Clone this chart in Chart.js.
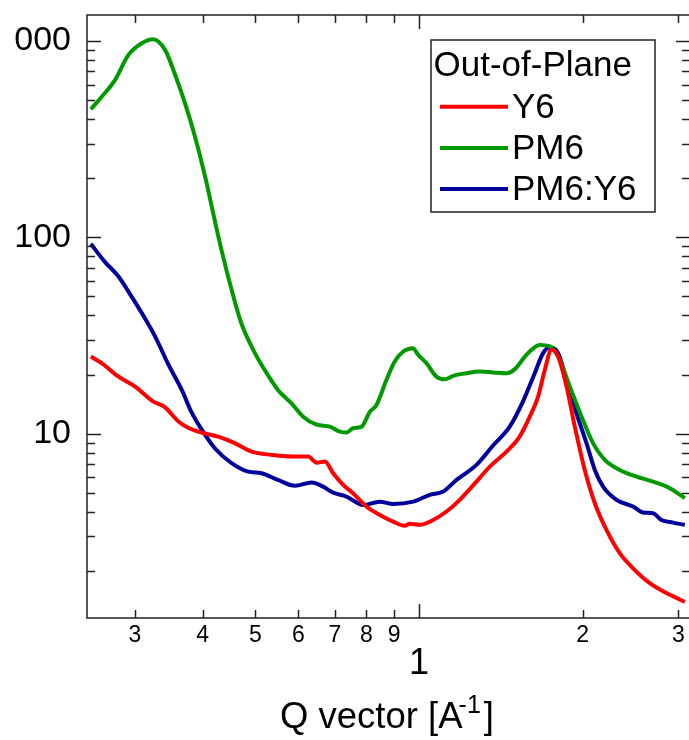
<!DOCTYPE html>
<html>
<head>
<meta charset="utf-8">
<script src="https://cdn.jsdelivr.net/npm/chart.js@4.4.1/dist/chart.umd.min.js"></script>
<style>
  html, body { margin: 0; padding: 0; background: #fff; }
  #wrap { position: relative; width: 689px; height: 740px; overflow: hidden; }
  #chart { position: absolute; left: -30px; top: 0; }
</style>
</head>
<body>
<div id="wrap"><canvas id="chart" width="725" height="740"></canvas></div>
<script>
// Data (Q in A^-1, intensity a.u.)
const qY6 = [0.249, 0.261, 0.280, 0.300, 0.324, 0.341, 0.360, 0.376, 0.398, 0.427, 0.458, 0.492, 0.536, 0.582, 0.625, 0.648, 0.671, 0.695, 0.725, 0.756, 0.800, 0.847, 0.896, 0.941, 0.961, 1.003, 1.061, 1.123, 1.188, 1.275, 1.349, 1.448, 1.531, 1.598, 1.655, 1.703, 1.752, 1.802, 1.867, 1.934, 2.017, 2.105, 2.211, 2.339, 2.475, 2.657, 2.851, 3.082];
const iY6 = [24.7, 22.8, 19.5, 17.4, 14.6, 13.6, 11.6, 10.7, 10.12, 9.65, 8.94, 8.09, 7.79, 7.64, 7.64, 7.11, 7.20, 6.28, 5.48, 4.97, 4.25, 3.85, 3.56, 3.39, 3.47, 3.43, 3.63, 4.01, 4.60, 5.69, 6.79, 8.09, 9.65, 12.2, 15.4, 21.1, 26.7, 24.7, 17.4, 10.85, 6.53, 4.42, 3.23, 2.46, 2.06, 1.73, 1.54, 1.39];

const qPM6 = [0.249, 0.261, 0.276, 0.292, 0.309, 0.324, 0.341, 0.355, 0.371, 0.387, 0.404, 0.418, 0.433, 0.452, 0.471, 0.499, 0.520, 0.550, 0.582, 0.612, 0.648, 0.685, 0.715, 0.735, 0.756, 0.784, 0.812, 0.835, 0.871, 0.902, 0.935, 0.975, 0.996, 1.032, 1.076, 1.115, 1.155, 1.222, 1.293, 1.368, 1.448, 1.500, 1.576, 1.667, 1.740, 1.802, 1.893, 2.002, 2.089, 2.196, 2.339, 2.511, 2.694, 2.892, 3.082];
const iPM6 = [449, 521, 634, 850, 974, 1021, 901, 685, 482, 326, 204, 133, 86.3, 54.0, 36.5, 25.7, 21.1, 16.7, 14.3, 12.2, 11.1, 10.85, 10.24, 10.12, 10.65, 10.85, 12.94, 14.0, 18.8, 23.3, 26.2, 27.2, 25.2, 22.8, 19.5, 18.9, 19.7, 20.3, 20.7, 20.5, 20.3, 21.3, 25.2, 28.3, 27.8, 24.7, 17.4, 11.7, 8.94, 7.35, 6.53, 6.04, 5.69, 5.27, 4.69];

const qBlend = [0.249, 0.264, 0.280, 0.292, 0.309, 0.327, 0.345, 0.366, 0.381, 0.398, 0.421, 0.452, 0.485, 0.513, 0.550, 0.591, 0.634, 0.666, 0.695, 0.735, 0.789, 0.847, 0.896, 0.975, 1.046, 1.107, 1.172, 1.275, 1.368, 1.468, 1.553, 1.632, 1.691, 1.740, 1.802, 1.867, 1.947, 2.032, 2.105, 2.180, 2.307, 2.475, 2.582, 2.694, 2.791, 2.932, 3.082];
const iBlend = [92.6, 75.2, 63.1, 52.9, 41.1, 31.2, 22.8, 16.7, 12.94, 10.5, 8.42, 7.07, 6.40, 6.28, 5.81, 5.42, 5.63, 5.37, 5.00, 4.78, 4.33, 4.50, 4.38, 4.50, 4.87, 5.07, 5.81, 6.93, 8.7, 10.85, 14.6, 20.3, 25.7, 27.5, 25.7, 18.8, 12.7, 8.94, 6.53, 5.37, 4.60, 4.25, 3.96, 3.93, 3.63, 3.52, 3.43];

const seriesLabels = ['Y6', 'PM6', 'PM6:Y6'];
const seriesColors = ['#ff0000', '#009a00', '#00009c'];

const xTickValues = [0.3, 0.4, 0.5, 0.6, 0.7, 0.8, 0.9, 1, 2, 3];
const xTickLabels = ['3', '4', '5', '6', '7', '8', '9', '1', '2', '3'];
const xMajorTicks = [1];
const yTickValues = [10, 100, 1000];
const yTickLabels = ['10', '100', '1000'];

const legendTitle = 'Out-of-Plane';
const xTitleMain = 'Q vector [A';
const xTitleSup = '-1';
const xTitleEnd = ']';

const FONT = '"Liberation Sans", Arial, sans-serif';
Chart.defaults.font.family = FONT;

const toPoints = (qs, is) => qs.map((q, i) => ({ x: q, y: is[i] }));

// the figure is cut off on the left, as in the source image
const cropLeft = {
    id: 'cropLeft',
    beforeDraw(chart) {
        const ctx = chart.ctx;
        ctx.save();
        ctx.beginPath();
        ctx.rect(44, 0, chart.width - 44, chart.height);
        ctx.clip();
    },
    afterDraw(chart) {
        chart.ctx.restore();
    }
};

// inward ticks on all four sides + frame
const frameTicks = {
    id: 'frameTicks',
    afterDraw(chart) {
        const { ctx, chartArea: a, scales: { x, y } } = chart;
        ctx.save();
        ctx.strokeStyle = '#222';
        ctx.lineWidth = 1.5;
        ctx.beginPath();
        xTickValues.forEach(v => {
            const len = xMajorTicks.includes(v) ? 14 : 8;
            const px = Math.round(x.getPixelForValue(v)) + 0.5;
            ctx.moveTo(px, a.bottom); ctx.lineTo(px, a.bottom - len);
            ctx.moveTo(px, a.top); ctx.lineTo(px, a.top + len);
        });
        [1, 10, 100, 1000].forEach(dec => {
            for (let k = 1; k <= 9; k++) {
                const v = dec * k;
                if (v < y.min || v > y.max) continue;
                const len = k === 1 ? 14 : 8;
                const py = Math.round(y.getPixelForValue(v)) + 0.5;
                ctx.moveTo(a.left, py); ctx.lineTo(a.left + len, py);
                ctx.moveTo(a.right, py); ctx.lineTo(a.right - len, py);
            }
        });
        ctx.stroke();
        ctx.strokeRect(a.left, a.top, a.right - a.left, a.bottom - a.top);
        ctx.restore();
    }
};

// boxed legend with title, inside the plot
const boxLegend = {
    id: 'boxLegend',
    afterDraw(chart) {
        const { ctx, chartArea: a } = chart;
        const left = a.left + 344, top = a.top + 25, w = 224, h = 172;
        ctx.save();
        ctx.strokeStyle = '#222';
        ctx.lineWidth = 1.5;
        ctx.strokeRect(left, top, w, h);
        ctx.fillStyle = '#000';
        ctx.font = '35px ' + FONT;
        ctx.textBaseline = 'alphabetic';
        ctx.fillText(legendTitle, left + 2.5, top + 35.5);
        chart.data.datasets.forEach((ds, i) => {
            const cy = top + 66.7 + i * 41.2;
            ctx.strokeStyle = ds.borderColor;
            ctx.lineWidth = 4;
            ctx.beginPath();
            ctx.moveTo(left + 9, cy); ctx.lineTo(left + 77, cy);
            ctx.stroke();
            ctx.fillText(ds.label, left + 81, cy + 11);
        });
        ctx.restore();
    }
};

// x title with superscript
const axisTitle = {
    id: 'axisTitle',
    afterDraw(chart) {
        const { ctx, chartArea: a } = chart;
        const x0 = a.left + 193, base = 727.5;
        ctx.save();
        ctx.fillStyle = '#000';
        ctx.textBaseline = 'alphabetic';
        ctx.font = '36.5px ' + FONT;
        ctx.fillText(xTitleMain, x0, base);
        const w = ctx.measureText(xTitleMain).width;
        ctx.font = '25px ' + FONT;
        const sx = x0 + w - 4;
        ctx.fillText(xTitleSup, sx, base - 15);
        const w2 = ctx.measureText(xTitleSup).width;
        ctx.font = '36.5px ' + FONT;
        ctx.fillText(xTitleEnd, sx + w2 + 3, base);
        ctx.restore();
    }
};

new Chart(document.getElementById('chart'), {
    type: 'line',
    data: {
        datasets: [
            { label: seriesLabels[0], data: toPoints(qY6, iY6), borderColor: seriesColors[0] },
            { label: seriesLabels[1], data: toPoints(qPM6, iPM6), borderColor: seriesColors[1] },
            { label: seriesLabels[2], data: toPoints(qBlend, iBlend), borderColor: seriesColors[2] }
        ].map(d => ({ ...d, borderWidth: 4, pointRadius: 0, fill: false, cubicInterpolationMode: 'monotone' }))
    },
    options: {
        responsive: false,
        devicePixelRatio: 1,
        animation: false,
        layout: { padding: { top: 15, right: 5, left: 0, bottom: 0 } },
        plugins: { legend: { display: false }, tooltip: { enabled: false } },
        scales: {
            x: {
                type: 'logarithmic',
                min: 0.245,
                max: 3.15,
                grid: { display: false, drawTicks: false },
                border: { display: false },
                afterFit: s => { s.height = 122; s.paddingLeft = 0; s.paddingRight = 0; },
                afterBuildTicks: s => { s.ticks = xTickValues.map(v => ({ value: v })); },
                ticks: {
                    autoSkip: false,
                    maxRotation: 0,
                    minRotation: 0,
                    padding: 4,
                    color: '#000',
                    font: ctx => ctx.tick && ctx.tick.value === 1 ? { size: 36, lineHeight: 0.78 } : { size: 23 },
                    callback: (v, i) => xTickValues[i] === 1 ? ['', xTickLabels[i]] : xTickLabels[i]
                }
            },
            y: {
                type: 'logarithmic',
                min: 1.15,
                max: 1356,
                grid: { display: false, drawTicks: false },
                border: { display: false },
                afterFit: s => { s.width = 117; s.paddingTop = 0; s.paddingBottom = 0; },
                afterBuildTicks: s => { s.ticks = yTickValues.map(v => ({ value: v })); },
                ticks: {
                    padding: 16,
                    color: '#000',
                    font: { size: 34 },
                    callback: (v, i) => yTickLabels[i]
                }
            }
        }
    },
    plugins: [cropLeft, frameTicks, boxLegend, axisTitle]
});
</script>
</body>
</html>
